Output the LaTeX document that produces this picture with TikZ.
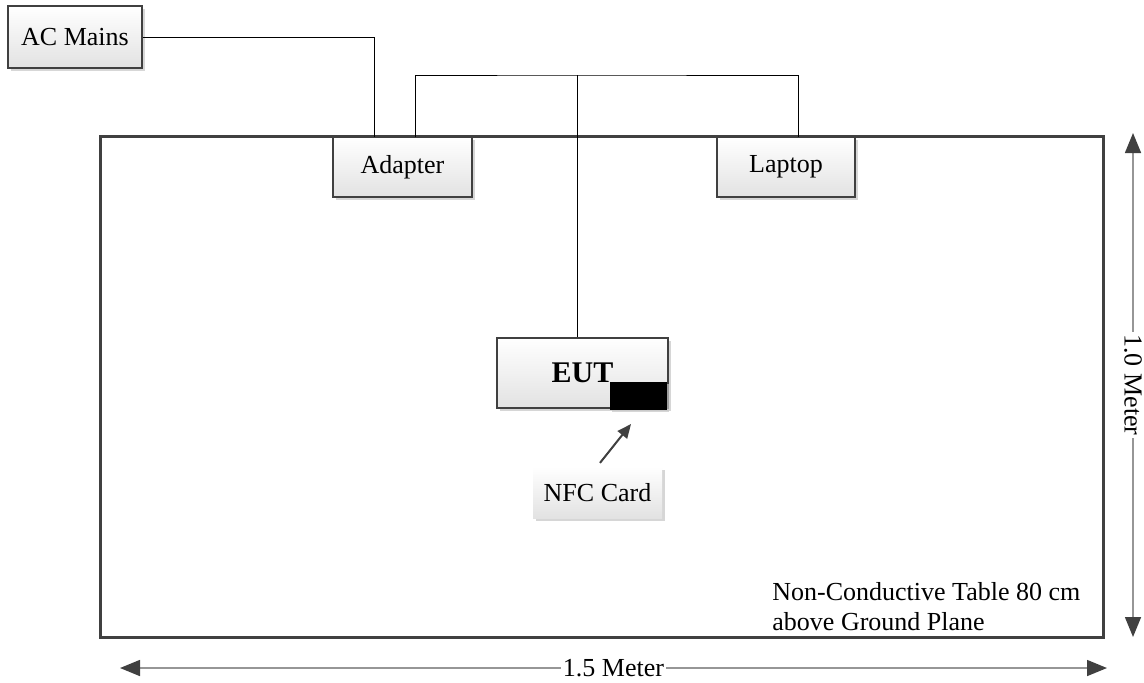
\documentclass[tikz,border=0pt]{standalone}
\usepackage{fontspec}
\setmainfont{Liberation Serif}
\usetikzlibrary{arrows.meta, shadows}
\definecolor{edgecolor}{RGB}{64,64,64}
\definecolor{shadecolor}{RGB}{226,226,226}
\definecolor{dimcolor}{RGB}{150,150,150}

\tikzset{
  unitbox/.style={rectangle, draw=edgecolor, line width=1pt, inner sep=0pt,
    top color=white, bottom color=shadecolor,
    drop shadow={shadow xshift=1.5pt, shadow yshift=-1.5pt, fill=gray!45, opacity=0.7},
    font=\fontsize{13}{15}\selectfont},
  dimline/.style={dimcolor, line width=0.8pt,
    {Triangle[length=10pt, width=8pt, color=edgecolor]}-{Triangle[length=10pt, width=8pt, color=edgecolor]}},
  dimlabel/.style={fill=white, text=black, inner sep=1pt, font=\fontsize{13}{15}\selectfont}
}

\begin{document}
\begin{tikzpicture}[x=0.5pt, y=-0.5pt]
\useasboundingbox (0,0) rectangle (1144,682);

% Table
\node[rectangle, draw=edgecolor, line width=1.5pt, fill=white, inner sep=0pt,
  minimum width=501.5pt, minimum height=250.5pt,
  drop shadow={shadow xshift=1pt, shadow yshift=-1pt, fill=gray!45, opacity=0.6}] (table) at (601.5,386.5) {};
\node[anchor=west, align=left, inner sep=0pt, font=\fontsize{13}{15}\selectfont] (tablenote) at (772,607)
  {Non-Conductive Table 80 cm\\above Ground Plane};

% Units
\node[unitbox, minimum width=67pt, minimum height=31pt] (acmains) at (75,37) {AC Mains};
\node[unitbox, minimum width=69.5pt, minimum height=30pt] (adapter) at (402.5,167) {Adapter};
\node[unitbox, minimum width=69pt, minimum height=30pt] (laptop) at (786,167) {Laptop};
\node[unitbox, minimum width=85.5pt, minimum height=35pt, font=\fontsize{15}{18}\selectfont\bfseries] (eut) at (582.5,373) {EUT};
\node[rectangle, fill=black, inner sep=0pt, minimum width=28.5pt, minimum height=14pt,
  drop shadow={shadow xshift=1pt, shadow yshift=-1pt, fill=gray!45, opacity=0.7}] (nfcpad) at (638.5,396) {};
\node[unitbox, draw=none, minimum width=64.5pt, minimum height=25.5pt] (nfccard) at (597.5,492.5) {NFC Card};

% Cable points
\coordinate (acin) at (374,137);
\coordinate (adapterout) at (415,137);
\coordinate (laptopin) at (798,137);
\coordinate (hub) at (577,75);
\coordinate (cardtip) at (631,424);

% Cables
\draw[line width=0.5pt] (acmains.east) -| (acin);
\draw[line width=0.5pt] (adapterout) |- (hub) -| (laptopin);
\draw[line width=0.5pt] (hub) -- (hub |- eut.north);

% NFC card pointer
\draw[edgecolor, line width=1pt, -{Triangle[length=7pt, width=6pt]}, shorten <=2pt] (nfccard.north) -- (cardtip);

% Dimensions
\coordinate (vtop) at (1133,133);
\coordinate (vbot) at (1133,637);
\coordinate (hleft) at (120,668);
\coordinate (hright) at (1107,668);
\draw[dimline] (vtop) -- (vbot) node[midway, dimlabel, rotate=-90] {1.0 Meter};
\draw[dimline] (hleft) -- (hright) node[midway, dimlabel] {1.5 Meter};

\end{tikzpicture}
\end{document}
